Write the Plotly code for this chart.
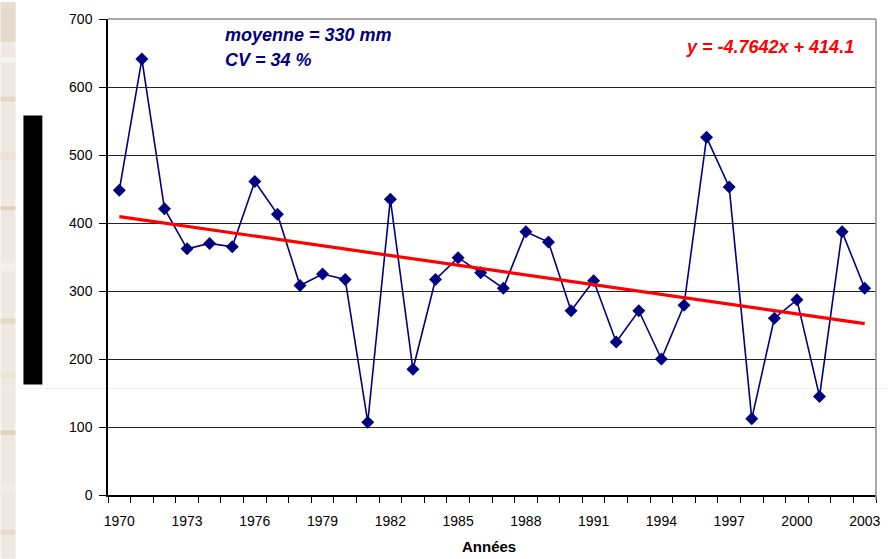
import plotly.graph_objects as go

# Annual rainfall (mm), 1970-2003
years = list(range(1970, 2004))
rain_mm = [448, 641, 421, 362, 370, 365, 461, 413, 308, 325,
           317, 107, 435, 185, 317, 349, 327, 304, 387, 372,
           271, 315, 225, 271, 200, 279, 526, 453, 112, 260,
           287, 145, 387, 304]

# Linear trend (x = 1 for the first year)
trend_slope = -4.7642
trend_intercept = 414.1

tick_years = years[::3]
tick_labels = [str(y) for y in tick_years]

# Figure geometry (pixels)
W, H = 891, 559
L, R, T, B = 108, 11, 17, 64
PW, PH = W - L - R, H - T - B


def px(x):
    return (x - L) / PW


def py(y):
    return (H - B - y) / PH


trend_vals = [trend_slope * (i + 1) + trend_intercept for i in range(len(years))]

fig = go.Figure()

fig.add_trace(go.Scatter(
    x=years, y=rain_mm, mode="lines+markers",
    line=dict(color="#000080", width=1.6),
    marker=dict(symbol="diamond", size=10, color="#000080"),
    showlegend=False, cliponaxis=False,
))

fig.add_trace(go.Scatter(
    x=[years[0], years[-1]], y=[trend_vals[0], trend_vals[-1]], mode="lines",
    line=dict(color="#ff0000", width=3.2),
    showlegend=False,
))

font_family = "Liberation Sans, Arial, sans-serif"

shapes = []
# textured strip on the left edge
shapes.append(dict(type="rect", xref="paper", yref="paper",
                   x0=px(0), x1=px(15), y0=py(H), y1=py(0),
                   fillcolor="#efe9e1", line=dict(width=0), layer="below"))
for yy, hh, c in [(0, 40, "#e6dccd"), (55, 6, "#f6f2ec"), (95, 5, "#e2d7c7"),
                  (150, 8, "#ebe2d5"), (205, 4, "#ded1be"), (260, 10, "#f4efe8"),
                  (318, 5, "#e4d9c9"), (372, 6, "#ece4d8"), (430, 5, "#e0d4c2"),
                  (485, 8, "#f3ede6"), (530, 5, "#e5dbcc")]:
    shapes.append(dict(type="rect", xref="paper", yref="paper",
                       x0=px(0), x1=px(15), y0=py(yy + hh), y1=py(yy),
                       fillcolor=c, line=dict(width=0), layer="below"))
# faint horizontal seam across the page
shapes.append(dict(type="line", xref="paper", yref="paper",
                   x0=px(0), x1=px(W), y0=py(388), y1=py(388),
                   line=dict(color="#f3f0ec", width=1), layer="below"))
# black bar left of the axis
shapes.append(dict(type="rect", xref="paper", yref="paper",
                   x0=px(23), x1=px(42), y0=py(384), y1=py(114),
                   fillcolor="#000000", line=dict(width=0)))
# plot-area border, top and right
shapes.append(dict(type="line", xref="paper", yref="paper",
                   x0=0, x1=1, y0=1, y1=1, line=dict(color="#8c8c8c", width=1.5)))
shapes.append(dict(type="line", xref="paper", yref="paper",
                   x0=1, x1=1, y0=py(500), y1=1, line=dict(color="#8c8c8c", width=1.5)))

annotations = [
    dict(xref="paper", yref="paper", x=px(224), y=py(33), xanchor="left", yanchor="middle",
         text="<b><i>moyenne = 330 mm</i></b>", showarrow=False,
         font=dict(family=font_family, size=18, color="#000080")),
    dict(xref="paper", yref="paper", x=px(224), y=py(58), xanchor="left", yanchor="middle",
         text="<b><i>CV = 34 %</i></b>", showarrow=False,
         font=dict(family=font_family, size=18, color="#000080")),
    dict(xref="paper", yref="paper", x=px(860), y=py(45), xanchor="right", yanchor="middle",
         text=f"<b><i>y = {trend_slope}x + {trend_intercept}</i></b>", showarrow=False,
         font=dict(family=font_family, size=18, color="#ff0000")),
    dict(xref="paper", yref="paper", x=px(491), y=py(547), xanchor="center", yanchor="middle",
         text="<b>Années</b>", showarrow=False,
         font=dict(family=font_family, size=15, color="#000000")),
]

fig.update_layout(
    width=W, height=H,
    margin=dict(l=L, r=R, t=T, b=B),
    paper_bgcolor="#ffffff", plot_bgcolor="#ffffff",
    shapes=shapes, annotations=annotations,
    font=dict(family=font_family, size=14, color="#000000"),
    xaxis=dict(
        range=[years[0] - 0.5, years[-1] + 0.5],
        tickmode="array", tickvals=tick_years, ticktext=tick_labels,
        ticks="outside", ticklen=0, tickcolor="#000000",
        ticklabelstandoff=12,
        showgrid=False, zeroline=False,
        showline=True, linecolor="#000000", linewidth=1.5,
        tickfont=dict(size=14),
        minor=dict(tickmode="array",
                   tickvals=[y - 0.5 for y in years] + [years[-1] + 0.5],
                   ticks="outside", ticklen=6, tickcolor="#000000", tickwidth=1,
                   showgrid=False),
    ),
    yaxis=dict(
        range=[0, 700], tickmode="linear", tick0=0, dtick=100,
        ticks="outside", ticklen=7, tickcolor="#000000",
        ticklabelstandoff=4,
        showgrid=True, gridcolor="#222222", gridwidth=1,
        zeroline=False,
        showline=True, linecolor="#000000", linewidth=1.5,
        tickfont=dict(size=14),
    ),
)

fig.write_html("out.html")
